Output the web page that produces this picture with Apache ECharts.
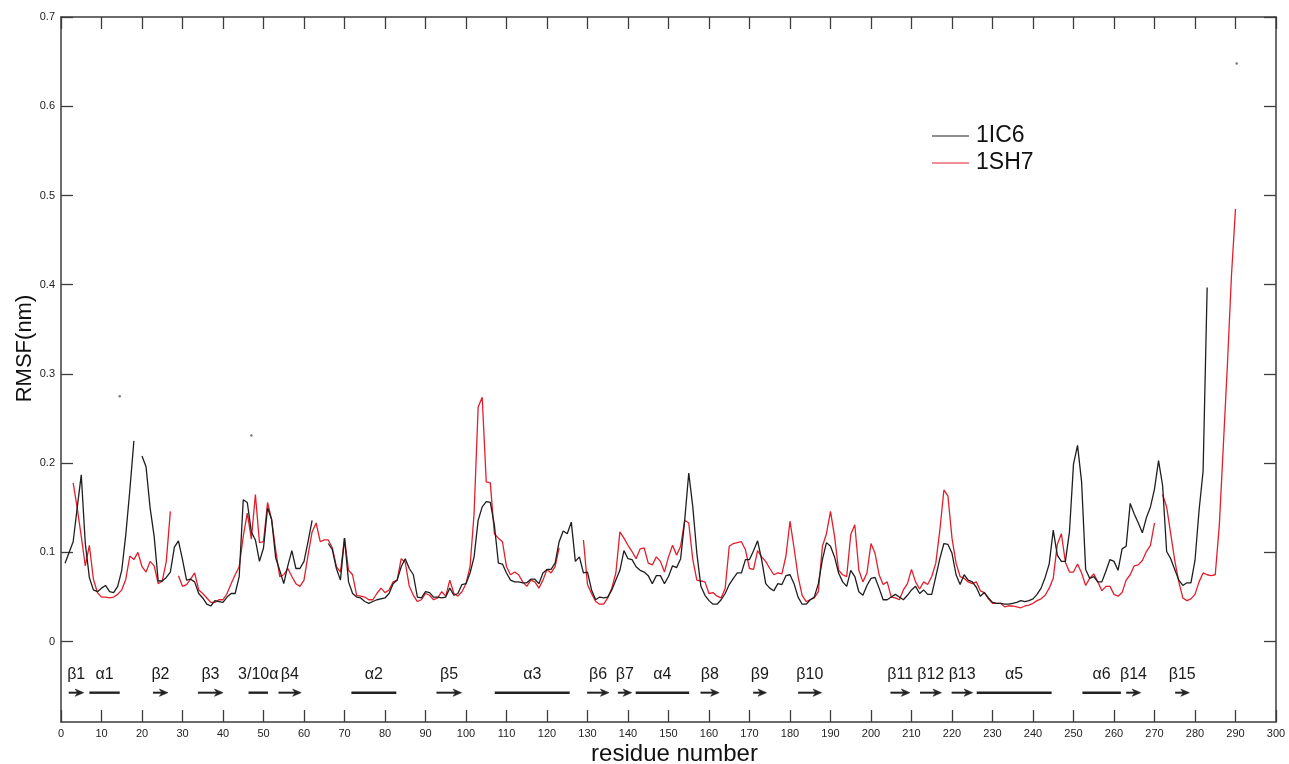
<!DOCTYPE html>
<html>
<head>
<meta charset="utf-8">
<title>RMSF 1IC6 / 1SH7</title>
<script src="https://cdn.jsdelivr.net/npm/echarts@6/dist/echarts.min.js"></script>
<style>
  html, body { margin: 0; padding: 0; background: #fff; }
  #main { width: 1289px; height: 764px; }
</style>
</head>
<body>
<div id="main"></div>
<script>
// RMSF per residue, starting at residue 1 (null = gap in the trace)
var rmsf1IC6 = [
  0.088, 0.100, 0.112, 0.150, 0.187, 0.110, 0.072, 0.058, 0.056, 0.060,
  0.063, 0.056, 0.055, 0.062, 0.080, 0.120, 0.170, 0.225, null, 0.208,
  0.196, 0.150, 0.118, 0.068, 0.068, 0.072, 0.078, 0.106, 0.113, 0.092,
  0.069, 0.070, 0.067, 0.054, 0.049, 0.042, 0.040, 0.046, 0.045, 0.044,
  0.050, 0.054, 0.054, 0.073, 0.159, 0.156, 0.123, 0.114, 0.090, 0.105,
  0.150, 0.137, 0.094, 0.080, 0.065, 0.085, 0.102, 0.082, 0.082, 0.090,
  0.112, 0.136, null, null, null, 0.110, 0.103, 0.082, 0.069, 0.116,
  0.067, 0.054, 0.050, 0.049, 0.045, 0.043, 0.045, 0.047, 0.048, 0.049,
  0.054, 0.065, 0.069, 0.084, 0.093, 0.082, 0.075, 0.050, 0.049, 0.056,
  0.055, 0.050, 0.050, 0.049, 0.050, 0.060, 0.052, 0.054, 0.064, 0.065,
  0.077, 0.095, 0.136, 0.151, 0.157, 0.156, 0.131, 0.088, 0.087, 0.077,
  0.069, 0.067, 0.067, 0.066, 0.066, 0.070, 0.070, 0.065, 0.077, 0.081,
  0.081, 0.088, 0.112, 0.124, 0.121, 0.134, 0.090, 0.095, 0.077, 0.078,
  0.058, 0.047, 0.050, 0.049, 0.050, 0.058, 0.069, 0.080, 0.102, 0.093,
  0.092, 0.084, 0.080, 0.078, 0.074, 0.065, 0.074, 0.074, 0.065, 0.073,
  0.085, 0.083, 0.093, 0.136, 0.189, 0.151, 0.099, 0.062, 0.052, 0.046,
  0.042, 0.042, 0.047, 0.054, 0.064, 0.071, 0.077, 0.077, 0.092, 0.092,
  0.102, 0.113, 0.092, 0.065, 0.060, 0.057, 0.065, 0.064, 0.074, 0.075,
  0.065, 0.050, 0.042, 0.042, 0.047, 0.050, 0.065, 0.092, 0.111, 0.107,
  0.095, 0.077, 0.067, 0.062, 0.080, 0.073, 0.056, 0.052, 0.063, 0.071,
  0.072, 0.060, 0.047, 0.047, 0.050, 0.053, 0.050, 0.047, 0.052, 0.058,
  0.062, 0.054, 0.058, 0.053, 0.053, 0.073, 0.093, 0.110, 0.109, 0.099,
  0.075, 0.064, 0.075, 0.069, 0.067, 0.061, 0.051, 0.055, 0.049, 0.044,
  0.043, 0.043, 0.042, 0.042, 0.043, 0.044, 0.046, 0.045, 0.046, 0.048,
  0.053, 0.060, 0.072, 0.087, 0.125, 0.097, 0.090, 0.090, 0.123, 0.199,
  0.220, 0.179, 0.081, 0.071, 0.073, 0.067, 0.067, 0.079, 0.092, 0.090,
  0.080, 0.104, 0.107, 0.155, 0.143, 0.133, 0.122, 0.139, 0.151, 0.171,
  0.203, 0.175, 0.101, 0.093, 0.081, 0.069, 0.063, 0.066, 0.066, 0.091,
  0.147, 0.191, 0.397
];

var rmsf1SH7 = [
  null, null, 0.178, 0.150, 0.118, 0.085, 0.108, 0.070, 0.055, 0.050,
  0.050, 0.049, 0.050, 0.053, 0.058, 0.070, 0.096, 0.092, 0.100, 0.084,
  0.078, 0.090, 0.085, 0.065, 0.068, 0.090, 0.146, null, 0.074, 0.062,
  0.064, 0.070, 0.077, 0.058, 0.054, 0.049, 0.044, 0.044, 0.047, 0.047,
  0.054, 0.065, 0.075, 0.084, 0.118, 0.144, 0.115, 0.165, 0.111, 0.112,
  0.156, 0.137, 0.103, 0.073, 0.075, 0.082, 0.073, 0.065, 0.062, 0.069,
  0.097, 0.123, 0.133, 0.112, 0.114, 0.114, 0.105, 0.084, 0.078, 0.116,
  0.080, 0.075, 0.052, 0.051, 0.050, 0.047, 0.047, 0.054, 0.060, 0.055,
  0.058, 0.067, 0.069, 0.093, 0.089, 0.062, 0.052, 0.045, 0.047, 0.054,
  0.052, 0.047, 0.049, 0.056, 0.051, 0.069, 0.054, 0.051, 0.056, 0.065,
  0.084, 0.144, 0.263, 0.274, 0.179, 0.178, 0.121, 0.116, 0.112, 0.084,
  0.075, 0.078, 0.075, 0.067, 0.062, 0.069, 0.067, 0.060, 0.069, 0.081,
  0.077, 0.084, 0.105, null, null, null, null, null, 0.114, 0.064,
  0.054, 0.045, 0.042, 0.042, 0.049, 0.060, 0.077, 0.123, 0.116, 0.108,
  0.101, 0.093, 0.104, 0.105, 0.088, 0.086, 0.095, 0.090, 0.078, 0.095,
  0.108, 0.097, 0.107, 0.136, 0.133, 0.092, 0.069, 0.068, 0.067, 0.054,
  0.055, 0.051, 0.049, 0.060, 0.107, 0.110, 0.111, 0.112, 0.103, 0.082,
  0.081, 0.102, 0.095, 0.090, 0.082, 0.075, 0.077, 0.076, 0.096, 0.135,
  0.105, 0.073, 0.052, 0.045, 0.047, 0.049, 0.056, 0.107, 0.121, 0.146,
  0.118, 0.080, 0.075, 0.073, 0.120, 0.131, 0.080, 0.067, 0.077, 0.110,
  0.099, 0.075, 0.064, 0.067, 0.050, 0.049, 0.047, 0.058, 0.065, 0.081,
  0.067, 0.059, 0.067, 0.064, 0.073, 0.088, 0.125, 0.170, 0.163, 0.116,
  0.088, 0.073, 0.071, 0.067, 0.065, 0.067, 0.057, 0.055, 0.048, 0.043,
  0.043, 0.043, 0.039, 0.040, 0.040, 0.039, 0.038, 0.040, 0.041, 0.043,
  0.046, 0.048, 0.052, 0.060, 0.071, 0.109, 0.121, 0.089, 0.078, 0.078,
  0.087, 0.077, 0.063, 0.071, 0.076, 0.067, 0.057, 0.062, 0.062, 0.053,
  0.051, 0.055, 0.069, 0.075, 0.085, 0.086, 0.091, 0.101, 0.108, 0.133,
  null, 0.165, 0.151, 0.121, 0.091, 0.067, 0.049, 0.046, 0.048, 0.053,
  0.067, 0.077, 0.075, 0.074, 0.075, 0.130, 0.220, 0.310, 0.410, 0.485
];

// secondary structure elements (residue ranges)
var sseNames = ['β1', 'α1', 'β2', 'β3', '3/10α', 'β4', 'α2', 'β5', 'α3', 'β6', 'β7',
  'α4', 'β8', 'β9', 'β10', 'β11', 'β12', 'β13', 'α5', 'α6', 'β14', 'β15'];
var sseStart = [1.9, 7.0, 22.7, 33.8, 46.3, 53.7, 71.7, 92.7, 107.1, 129.9, 137.5,
  141.9, 157.9, 170.9, 182.0, 204.8, 212.1, 219.9, 226.1, 252.2, 263.0, 275.1];
var sseEnd = [5.6, 14.5, 26.4, 40.0, 51.1, 59.3, 82.8, 98.9, 125.6, 135.3, 140.9,
  155.1, 162.5, 174.2, 187.8, 209.6, 217.4, 225.1, 244.6, 261.7, 266.6, 278.6];

// small stray marks in the plot
var strayX = [14.5, 47.0, 290.3];
var strayY = [0.275, 0.231, 0.648];

var yTicks = [0, 0.1, 0.2, 0.3, 0.4, 0.5, 0.6, 0.7];

var FONT = '"Liberation Sans", Arial, sans-serif';
var AXIS_COLOR = '#3c3c3c';

function toPairs(arr) {
  var out = [];
  for (var i = 0; i < arr.length; i++) {
    out.push([i + 1, arr[i]]);
  }
  return out;
}

var sseData = [];
for (var k = 0; k < sseNames.length; k++) {
  sseData.push([sseStart[k], sseEnd[k], k]);
}
var strayData = [];
for (var m = 0; m < strayX.length; m++) {
  strayData.push([strayX[m], strayY[m]]);
}

var myChart = echarts.init(document.getElementById('main'));

var axisLineStyle = { color: AXIS_COLOR, width: 1.5 };
var tickStyle = { color: AXIS_COLOR, width: 1.3 };

var option = {
  animation: false,
  backgroundColor: '#ffffff',
  textStyle: { fontFamily: FONT },
  grid: { left: 61, right: 13, top: 17, bottom: 42, outerBoundsMode: 'none' },
  legend: {
    data: ['1IC6', '1SH7'],
    orient: 'vertical',
    left: 927,
    top: 119,
    icon: 'rect',
    itemWidth: 37,
    itemHeight: 1.2,
    itemGap: 3,
    textStyle: { fontSize: 23, color: '#111', fontFamily: FONT, lineHeight: 24, padding: [0, 0, 0, 2] }
  },
  xAxis: [{
    type: 'value',
    position: 'bottom',
    min: 0,
    max: 300,
    interval: 10,
    name: 'residue number',
    nameLocation: 'middle',
    nameGap: 20,
    nameMoveOverlap: false,
    nameTextStyle: { fontSize: 24, color: '#111', fontFamily: FONT, padding: [0, 0, 0, 12] },
    axisLine: { show: true, onZero: false, lineStyle: axisLineStyle },
    axisTick: { show: true, inside: true, length: 12, lineStyle: tickStyle },
    axisLabel: { fontSize: 11, color: '#222', margin: 6, fontFamily: FONT },
    splitLine: { show: false }
  }, {
    type: 'value',
    position: 'top',
    min: 0,
    max: 300,
    interval: 10,
    axisLine: { show: true, onZero: false, lineStyle: axisLineStyle },
    axisTick: { show: true, inside: true, length: 12, lineStyle: tickStyle },
    axisLabel: { show: false },
    splitLine: { show: false }
  }],
  yAxis: [{
    type: 'value',
    position: 'left',
    min: -0.09,
    max: 0.7,
    name: 'RMSF(nm)',
    nameLocation: 'middle',
    nameGap: 25,
    nameMoveOverlap: false,
    nameTextStyle: { fontSize: 22, color: '#111', fontFamily: FONT, padding: [0, 0, 0, 42] },
    axisLine: { show: true, onZero: false, lineStyle: axisLineStyle },
    axisTick: { show: true, inside: true, length: 12, lineStyle: tickStyle, customValues: yTicks },
    axisLabel: { fontSize: 11, color: '#222', margin: 6, fontFamily: FONT, customValues: yTicks },
    splitLine: { show: false }
  }, {
    type: 'value',
    position: 'right',
    min: -0.09,
    max: 0.7,
    axisLine: { show: true, onZero: false, lineStyle: axisLineStyle },
    axisTick: { show: true, inside: true, length: 12, lineStyle: tickStyle, customValues: yTicks },
    axisLabel: { show: false, customValues: yTicks },
    splitLine: { show: false }
  }],
  series: [{
    name: '1IC6',
    type: 'line',
    data: toPairs(rmsf1IC6),
    symbol: 'none',
    connectNulls: false,
    color: '#1e1e1e',
    lineStyle: { color: '#1e1e1e', width: 1.3 },
    z: 3
  }, {
    name: '1SH7',
    type: 'line',
    data: toPairs(rmsf1SH7),
    symbol: 'none',
    connectNulls: false,
    color: '#e31e2c',
    lineStyle: { color: '#e31e2c', width: 1.3 },
    z: 2
  }, {
    name: 'stray',
    type: 'scatter',
    data: strayData,
    symbol: 'circle',
    symbolSize: 2.5,
    itemStyle: { color: '#555' },
    silent: true
  }, {
    name: 'sse',
    type: 'custom',
    data: sseData,
    clip: false,
    silent: true,
    renderItem: function (params, api) {
      var s = api.coord([api.value(0), 0]);
      var e = api.coord([api.value(1), 0]);
      var name = sseNames[api.value(2)];
      var barY = s[1] + 51;
      var labelY = s[1] + 33;
      var mid = (s[0] + e[0]) / 2;
      var children = [{
        type: 'text',
        style: {
          text: name,
          x: mid,
          y: labelY,
          align: 'center',
          verticalAlign: 'middle',
          fontSize: 16,
          fontFamily: FONT,
          fill: '#1a1a1a'
        }
      }];
      if (name.charAt(0) === 'β') {
        children.push({
          type: 'line',
          shape: { x1: s[0], y1: barY, x2: e[0] - 5, y2: barY },
          style: { stroke: '#222', lineWidth: 2 }
        });
        children.push({
          type: 'polygon',
          shape: { points: [[e[0], barY], [e[0] - 8.5, barY - 3.6], [e[0] - 6, barY], [e[0] - 8.5, barY + 3.6]] },
          style: { fill: '#222', stroke: '#222', lineWidth: 0.6 }
        });
      } else {
        children.push({
          type: 'line',
          shape: { x1: s[0], y1: barY, x2: e[0], y2: barY },
          style: { stroke: '#222', lineWidth: 2.4 }
        });
      }
      return { type: 'group', children: children };
    }
  }]
};

myChart.setOption(option);
</script>
</body>
</html>
